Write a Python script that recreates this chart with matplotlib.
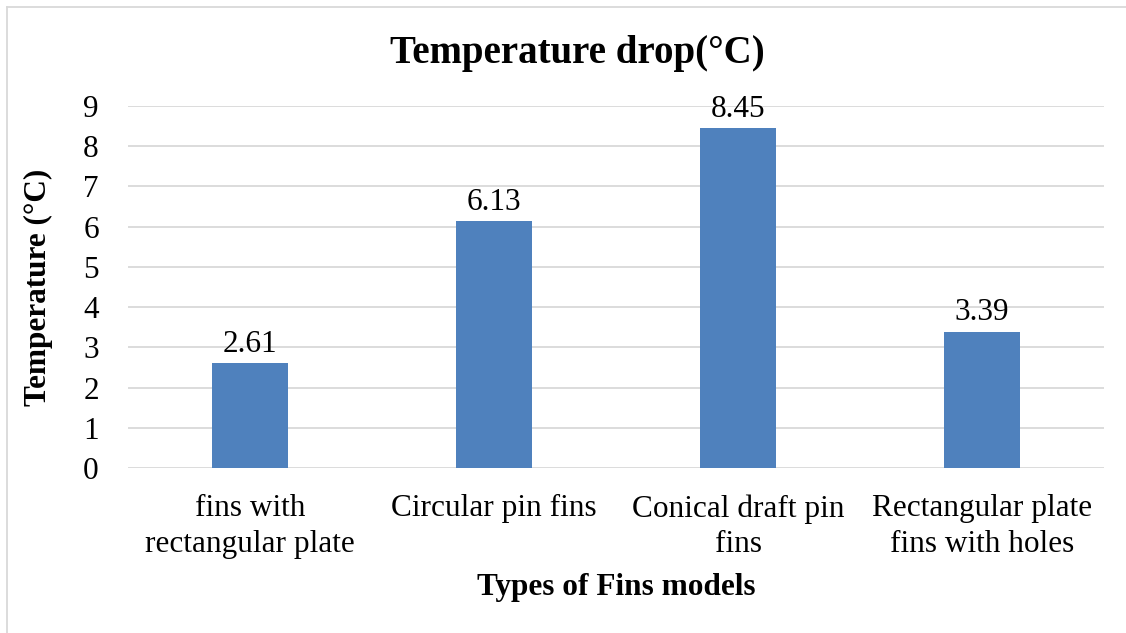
import matplotlib.pyplot as plt
from matplotlib.lines import Line2D

# data
categories = ['fins with\nrectangular plate', 'Circular pin fins',
              'Conical draft pin\nfins', 'Rectangular plate\nfins with holes']
temp_drop = [2.61, 6.13, 8.45, 3.39]
yticks = [0, 1, 2, 3, 4, 5, 6, 7, 8, 9]

plt.rcParams['font.family'] = ['Liberation Serif', 'DejaVu Serif']

W, H = 1126, 633
fig = plt.figure(figsize=(W / 100, H / 100), dpi=100)
ax = fig.add_axes([128 / W, 1 - 468 / H, (1104 - 128) / W, (468 - 106) / H])

x = list(range(len(categories)))
bars = ax.bar(x, temp_drop, width=0.31, color='#4F81BD', zorder=3)
for b, v in zip(bars, temp_drop):
    ax.annotate('%.2f' % v, (b.get_x() + b.get_width() / 2, v),
                xytext=(0, 3), textcoords='offset points',
                ha='center', va='bottom', fontsize=22.5)

ax.set_xlim(-0.5, len(categories) - 0.5)
ax.set_ylim(0, 9)
ax.set_yticks(yticks)
ax.set_xticks(x)
ax.set_xticklabels(categories, fontsize=22.5, linespacing=1.3)
ax.tick_params(axis='y', length=0, pad=21, labelsize=22.5)
ax.tick_params(axis='x', length=0, pad=19)
ax.yaxis.grid(True, color='#D9D9D9', linewidth=1.3, zorder=0)
for s in ax.spines.values():
    s.set_visible(False)

ax.set_xlabel('Types of Fins models', fontsize=22.5, fontweight='bold', labelpad=10)
ax.set_ylabel('Temperature (°C)', fontsize=22.5, fontweight='bold', labelpad=22)
fig.text(577 / W, 1 - 54 / H, 'Temperature drop(°C)', fontsize=28,
         fontweight='bold', ha='center', va='center')

# chart area border (top and left visible)
fig.add_artist(Line2D([7 / W, 1], [1 - 7 / H, 1 - 7 / H], color='#D9D9D9', lw=1.3))
fig.add_artist(Line2D([7 / W, 7 / W], [0, 1 - 7 / H], color='#D9D9D9', lw=1.3))

fig.savefig('out.png', dpi=100)
